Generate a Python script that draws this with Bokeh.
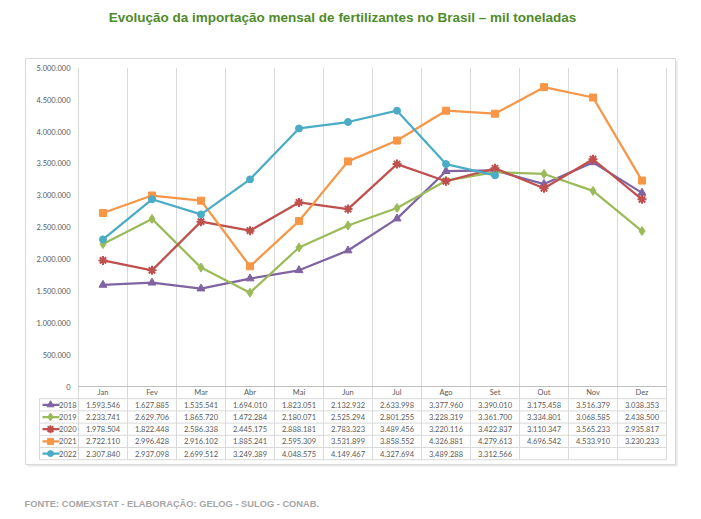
from bokeh.plotting import figure
from bokeh.models import Range1d
from bokeh.core.properties import value
from bokeh.embed import file_html
from bokeh.resources import INLINE

months = ["Jan", "Fev", "Mar", "Abr", "Mai", "Jun", "Jul", "Ago", "Set", "Out", "Nov", "Dez"]
years = ["2018", "2019", "2020", "2021", "2022"]
y2018 = [1593546, 1627885, 1535541, 1694010, 1823051, 2132932, 2633998, 3377960, 3390010, 3175458, 3516379, 3038353]
y2019 = [2233741, 2629706, 1865720, 1472284, 2180071, 2525294, 2801255, 3228319, 3361700, 3334801, 3068585, 2438500]
y2020 = [1978504, 1822448, 2586338, 2445175, 2888181, 2783323, 3489456, 3220116, 3422837, 3110347, 3565233, 2935817]
y2021 = [2722110, 2996428, 2916102, 1885241, 2595309, 3531899, 3858552, 4326881, 4279613, 4696542, 4533910, 3230233]
y2022 = [2307840, 2937098, 2699512, 3249389, 4048575, 4149467, 4327694, 3489288, 3312566]
yticks = [0, 500000, 1000000, 1500000, 2000000, 2500000, 3000000, 3500000, 4000000, 4500000, 5000000]

series = [y2018, y2019, y2020, y2021, y2022]
colors = ["#8064A2", "#9BBB59", "#C0504D", "#F79646", "#4BACC6"]
markers = ["triangle", "diamond", "asterisk", "square", "circle"]
msizes = [8, 9, 9, 7, 7]

title = "Evolução da importação mensal de fertilizantes no Brasil – mil toneladas"
footer = "FONTE: COMEXSTAT - ELABORAÇÃO: GELOG - SULOG - CONAB."

W, H = 693, 511
# page-pixel -> data helpers (layout only)
X0, CW = 78.0, 49.0
Y0, PPU = 386.0, 318.7 / 5000000.0


def xd(px):
    return (px - X0) / CW


def yd(py):
    return (Y0 - py) / PPU


def fmt(v):
    return f"{v:,}".replace(",", ".")


p = figure(width=W, height=H, output_backend="svg", toolbar_location=None,
           x_axis_location=None, y_axis_location=None, min_border=0,
           x_range=Range1d(xd(0), xd(W)), y_range=Range1d(yd(H), yd(0)))
p.outline_line_color = None
p.xgrid.visible = False
p.ygrid.visible = False
p.background_fill_color = "white"
p.border_fill_color = "white"

FONT = value("Lato")
TXT = "#595959"
GRID = "#d9d9d9"

# chart box with faint shadow
p.quad(left=[xd(27)], right=[xd(677)], bottom=[yd(466)], top=[yd(60)],
       fill_color="#e8e8e8", line_color=None)
p.quad(left=[xd(25)], right=[xd(675)], bottom=[yd(464)], top=[yd(58)],
       fill_color="white", line_color=GRID, line_width=1)

# title and footer
p.text(x=[xd(342)], y=[yd(17)], text=[title], text_align="center", text_baseline="middle",
       text_font=value("Liberation Sans"), text_font_style="bold", text_font_size="13.5px",
       text_color="#4f8b2a")
p.text(x=[xd(24)], y=[yd(503)], text=[footer], text_align="left", text_baseline="middle",
       text_font=value("Liberation Sans"), text_font_style="bold", text_font_size="9.3px",
       text_color="#a6a6a6")

n = len(months)
row_h = 12.2
nrows = len(years)
table_bottom = yd(Y0 + row_h * (nrows + 1))
left_col = xd(39)

# vertical gridlines / table column lines
xs = list(range(n + 1))
p.segment(x0=xs, y0=[table_bottom] * len(xs), x1=xs, y1=[5000000] * len(xs),
          line_color=GRID, line_width=1)
# left legend column line
p.segment(x0=[left_col], y0=[table_bottom], x1=[left_col], y1=[yd(Y0 + row_h)],
          line_color=GRID, line_width=1)
# horizontal table lines
hy = [yd(Y0 + row_h * k) for k in range(1, nrows + 2)]
p.segment(x0=[left_col] * len(hy), y0=hy, x1=[n] * len(hy), y1=hy, line_color=GRID, line_width=1)
# axis line at 0
p.segment(x0=[0], y0=[0], x1=[n], y1=[0], line_color="#bfbfbf", line_width=1)

# y tick labels
p.text(x=[xd(70)] * len(yticks), y=yticks, text=[fmt(v) for v in yticks],
       text_align="right", text_baseline="middle", text_font=FONT,
       text_font_size="7.5px", text_color=TXT)

# month header
cx = [i + 0.5 for i in range(n)]
p.text(x=cx, y=[yd(Y0 + row_h * 0.5)] * n, text=months, text_align="center",
       text_baseline="middle", text_font=FONT, text_font_size="7.5px", text_color=TXT)

# series lines and markers
for vals, c, m, s in zip(series, colors, markers, msizes):
    xx = cx[:len(vals)]
    p.line(x=xx, y=vals, line_color=c, line_width=2.25)
    p.scatter(x=xx, y=vals, marker=m, size=s, fill_color=c, line_color=c,
              line_width=2 if m == "asterisk" else 1)

# table rows
for k, (yr, vals, c, m, s) in enumerate(zip(years, series, colors, markers, msizes)):
    ry = yd(Y0 + row_h * (k + 1.5))
    p.text(x=cx[:len(vals)], y=[ry] * len(vals), text=[fmt(v) for v in vals],
           text_align="center", text_baseline="middle", text_font=FONT,
           text_font_size="7.5px", text_color=TXT)
    p.segment(x0=[xd(42)], y0=[ry], x1=[xd(59)], y1=[ry], line_color=c, line_width=2.25)
    p.scatter(x=[xd(50)], y=[ry], marker=m, size=s - 1, fill_color=c, line_color=c,
              line_width=2 if m == "asterisk" else 1)
    p.text(x=[xd(76)], y=[ry], text=[yr], text_align="right", text_baseline="middle",
           text_font=FONT, text_font_size="7.5px", text_color=TXT)

open("out.html", "w").write(file_html(p, INLINE))
